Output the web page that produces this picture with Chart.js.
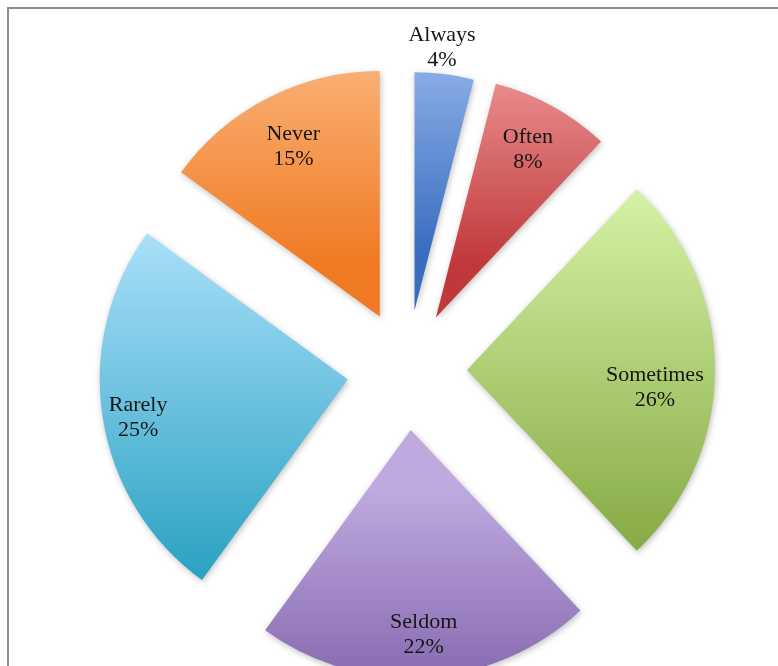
<!DOCTYPE html>
<html>
<head>
<meta charset="utf-8">
<script src="https://cdn.jsdelivr.net/npm/chart.js@4/dist/chart.umd.min.js"></script>
<style>
  html, body { margin: 0; padding: 0; background: #fff; overflow: hidden; }
  #wrap { position: relative; width: 778px; height: 666px; }
  #frame {
    position: absolute; left: 7px; top: 7px; width: 820px; height: 720px;
    border: 2px solid #8c8c8c; box-sizing: border-box;
  }
  #pie { position: absolute; left: 0; top: 0; }
</style>
</head>
<body>
<div id="wrap">
  <div id="frame"></div>
  <canvas id="pie" width="778" height="666"></canvas>
</div>
<script>
// Answer categories, clockwise from 12 o'clock
const categories = ['Always', 'Often', 'Sometimes', 'Seldom', 'Rarely', 'Never'];
// Share of responses (%)
const shares = [4, 8, 26, 22, 25, 15];

// light (top) and dark (bottom) end of each slice's gradient
const topColors = ['#a6c4f4', '#f4a6a6', '#d6f2a6', '#bfaadf', '#a6def8', '#fcbe8a'];
const bottomColors = ['#3a6dc0', '#c0383a', '#86aa44', '#7656a2', '#26a0c0', '#f07a22'];

const RADIUS = 248;
const OFFSET = 240;           // chart.js moves an arc by offset / 4
const EXPLODE = OFFSET / 4;
const NARROW_SHRINK = 13;     // narrow slices come out a little shorter in the original

// per-slice label distance (fraction of radius) and small angle nudge (deg)
const labelSpot = [[1.065, -1], [0.77, 0], [0.76, 4.2], [0.827, 0], [0.859, -1], [0.768, 0]];

function sliceAngles(i) {
    const total = shares.reduce((a, b) => a + b, 0);
    const before = shares.slice(0, i).reduce((a, b) => a + b, 0);
    const a0 = -Math.PI / 2 + before / total * Math.PI * 2;
    const a1 = a0 + shares[i] / total * Math.PI * 2;
    return [a0, a1];
}

function sliceGradient(c) {
    const chart = c.chart;
    const area = chart.chartArea;
    const i = c.dataIndex;
    if (!area || i === undefined) return topColors[i || 0];
    const [a0, a1] = sliceAngles(i);
    const mid = (a0 + a1) / 2;
    const cy = (area.top + area.bottom) / 2 + Math.sin(mid) * EXPLODE;
    let ymin = cy, ymax = cy;
    for (let k = 0; k <= 60; k++) {
        const y = cy + Math.sin(a0 + (a1 - a0) * k / 60) * RADIUS;
        ymin = Math.min(ymin, y);
        ymax = Math.max(ymax, y);
    }
    const g = chart.ctx.createLinearGradient(0, ymin, 0, ymax);
    g.addColorStop(0, topColors[i]);
    g.addColorStop(1, bottomColors[i]);
    return g;
}

// arc.draw grows narrow slices by offset*(1 - sin(angle)) and trims their angle;
// undo both so every slice keeps radial edges and an even radius
const evenRadius = {
    id: 'evenRadius',
    afterDatasetUpdate(chart, args) {
        args.meta.data.forEach(arc => {
            const fix = 1 - Math.sin(Math.min(Math.PI, arc.circumference));
            const grow = EXPLODE * fix;
            arc.outerRadius = RADIUS - (EXPLODE + NARROW_SHRINK) * fix;
            const drawR = arc.outerRadius + grow;
            const widen = grow / (Math.PI * drawR) / 2;
            arc.startAngle -= widen;
            arc.endAngle += widen;
        });
    }
};

const softShadow = {
    id: 'softShadow',
    beforeDatasetsDraw(chart) {
        const ctx = chart.ctx;
        ctx.save();
        ctx.shadowColor = 'rgba(0,0,0,0.25)';
        ctx.shadowBlur = 6;
        ctx.shadowOffsetX = 1;
        ctx.shadowOffsetY = 2;
    },
    afterDatasetsDraw(chart) {
        chart.ctx.restore();
    }
};

const sliceLabels = {
    id: 'sliceLabels',
    afterDraw(chart) {
        const ctx = chart.ctx;
        const meta = chart.getDatasetMeta(0);
        const total = shares.reduce((a, b) => a + b, 0);
        ctx.save();
        ctx.font = '22px "Liberation Serif", serif';
        ctx.fillStyle = '#161616';
        ctx.textAlign = 'center';
        ctx.textBaseline = 'middle';
        meta.data.forEach((arc, i) => {
            const p = arc.getProps(['x', 'y', 'startAngle', 'endAngle'], true);
            const mid = (p.startAngle + p.endAngle) / 2 + labelSpot[i][1] * Math.PI / 180;
            const d = EXPLODE + labelSpot[i][0] * RADIUS;
            const lx = p.x + Math.cos(mid) * d;
            const ly = p.y + Math.sin(mid) * d;
            ctx.fillText(categories[i], lx, ly - 12.5);
            ctx.fillText(Math.round(shares[i] / total * 100) + '%', lx, ly + 12.5);
        });
        ctx.restore();
    }
};

const ctx = document.getElementById('pie').getContext('2d');
new Chart(ctx, {
    type: 'pie',
    data: {
        labels: categories,
        datasets: [{
            data: shares,
            backgroundColor: sliceGradient,
            borderWidth: 0,
            offset: OFFSET,
            hoverOffset: 0,
            clip: false
        }]
    },
    options: {
        responsive: false,
        animation: false,
        events: [],
        radius: RADIUS,
        layout: { padding: { left: 36, top: 74, right: 0, bottom: 0 } },
        plugins: {
            legend: { display: false },
            tooltip: { enabled: false }
        }
    },
    plugins: [evenRadius, softShadow, sliceLabels]
});
</script>
</body>
</html>
